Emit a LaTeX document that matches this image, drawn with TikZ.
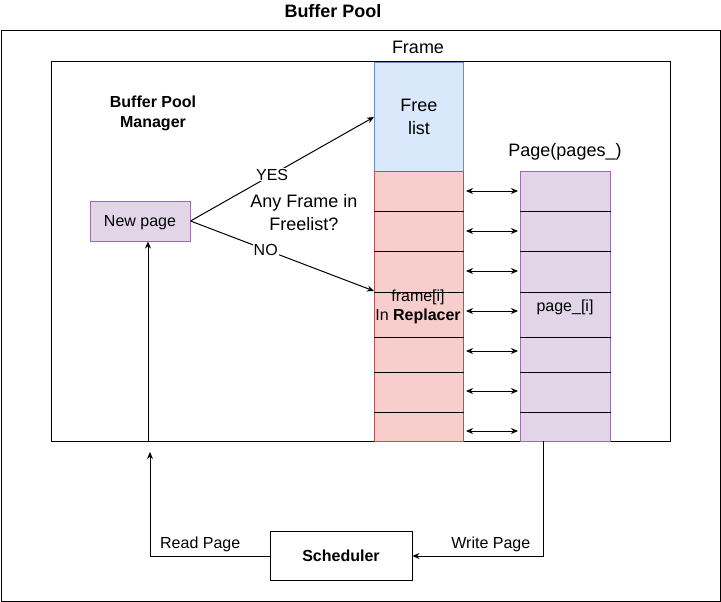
\documentclass[tikz,border=0pt]{standalone}
\usepackage{fontspec}
\setmainfont{Liberation Sans}
\usetikzlibrary{arrows.meta,positioning,calc}
\definecolor{freefill}{HTML}{DAE8FC}
\definecolor{freeline}{HTML}{6C8EBF}
\definecolor{replfill}{HTML}{F8CECC}
\definecolor{replline}{HTML}{B85450}
\definecolor{pagefill}{HTML}{E1D5E7}
\definecolor{pageline}{HTML}{9673A6}
\begin{document}
\begin{tikzpicture}[x=1pt, y=-1pt, line width=1pt, >={Stealth[length=7pt,width=6pt]},
  sm/.style={font=\fontsize{16}{19}\selectfont},
  smb/.style={font=\fontsize{16}{20}\selectfont\bfseries},
  lg/.style={font=\fontsize{18}{23}\selectfont},
  lgb/.style={font=\fontsize{18}{22}\selectfont\bfseries},
  col/.style={draw, anchor=north west, inner sep=0pt, align=center}]
\useasboundingbox (0,0) rectangle (721,602);
\draw (1,31) rectangle (720,601);
\node[lgb] (title) at (333,11) {Buffer Pool};
\draw (51,62) rectangle (670,441);
\node[col, lg, fill=freefill, draw=freeline, minimum width=89, minimum height=109] (free) at (374,62) {Free\\list};
\node[col, fill=replfill, draw=replline, minimum width=89, minimum height=270] (repl) at (374,171) {};
\node[col, fill=pagefill, draw=pageline, minimum width=90, minimum height=270] (pages) at (520,171) {};
\foreach \y in {211,251,292,337,372,412} {
  \draw (repl.west |- 0,\y) -- (repl.east |- 0,\y);
  \draw (pages.west |- 0,\y) -- (pages.east |- 0,\y);
}
\foreach \k [evaluate=\k as \y using 191+40*\k] in {0,...,6}
  \draw[<->, shorten <=2pt, shorten >=2pt] (repl.east |- 0,\y) -- (pages.west |- 0,\y);
\node[lg] (framelbl) at (418,47) {Frame};
\node[lg] (pageslbl) at (565,152) {Page(pages\_)};
\node[sm, align=center] (framei) at (418,307) {frame[i]\\In \textbf{Replacer}};
\node[sm] (pagei) at (565,307) {page\_[i]};
\node[smb, align=center] (bpm) at (153,113) {Buffer Pool\\Manager};
\node[sm, draw=pageline, fill=pagefill, minimum width=100, minimum height=40, text height=11.5pt, text depth=0pt] (newpg) at (140,221) {New page};
\node[lg, align=center] (ask) at (304,213) {Any Frame in\\Freelist?};
\draw[->] (newpg.east) -- (free.west) node[sm, pos=0.445, fill=white, inner sep=1pt] (yes) {YES};
\draw[->] (newpg.east) -- (repl.west |- 0,291) node[sm, pos=0.41, fill=white, inner sep=1pt] (no) {NO};
\node[smb, draw, minimum width=142, minimum height=49, text height=11.5pt, text depth=0pt] (sched) at (341,556) {Scheduler};
\coordinate (wp) at (543,441);
\coordinate (rp) at (150,452);
\coordinate (nin) at (148,441);
\draw[->] (wp) |- (sched.east) node[sm, pos=0.7, above] (wlbl) {Write Page};
\draw[->] (sched.west) -| (rp) node[sm, pos=0.29, above] (rlbl) {Read Page};
\draw[->] (nin) -- (nin |- newpg.south);
\end{tikzpicture}
\end{document}
